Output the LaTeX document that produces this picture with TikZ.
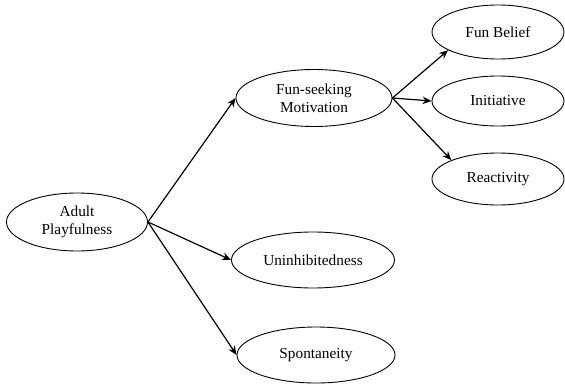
\documentclass[tikz,border=0pt]{standalone}
\usepackage{fontspec}
\setmainfont{Liberation Serif}
\usetikzlibrary{shapes.geometric,arrows.meta}
\begin{document}
\begin{tikzpicture}[x=1pt,y=1pt,
  oval/.style={draw, ellipse, line width=0.9pt, inner sep=0pt, align=center,
    font=\fontsize{15.3}{17.8}\selectfont},
  arr/.style={line width=1.2pt, -{Stealth[length=9pt,width=7.5pt]}}]
\useasboundingbox (0,0) rectangle (565,-383);
\node[oval, minimum width=141, minimum height=58] (adult) at (77,-222) {Adult\\Playfulness};
\node[oval, minimum width=156, minimum height=57] (fsm) at (314,-98) {Fun-seeking\\Motivation};
\node[oval, minimum width=132, minimum height=54] (fb) at (498,-32) {Fun Belief};
\node[oval, minimum width=132, minimum height=50] (ini) at (498,-101) {Initiative};
\node[oval, minimum width=132, minimum height=52] (rea) at (498,-179) {Reactivity};
\node[oval, minimum width=163, minimum height=56] (uni) at (313,-260) {Uninhibitedness};
\node[oval, minimum width=158, minimum height=56] (spo) at (316,-355) {Spontaneity};
\draw[arr] (adult.east) -- (fsm.west);
\draw[arr] (adult.east) -- (uni.west);
\draw[arr] (adult.east) -- (spo.west);
\draw[arr] (fsm.east) -- (fb.200);
\draw[arr] (fsm.east) -- (ini.west);
\draw[arr] (fsm.east) -- (rea.158);
\end{tikzpicture}
\end{document}
